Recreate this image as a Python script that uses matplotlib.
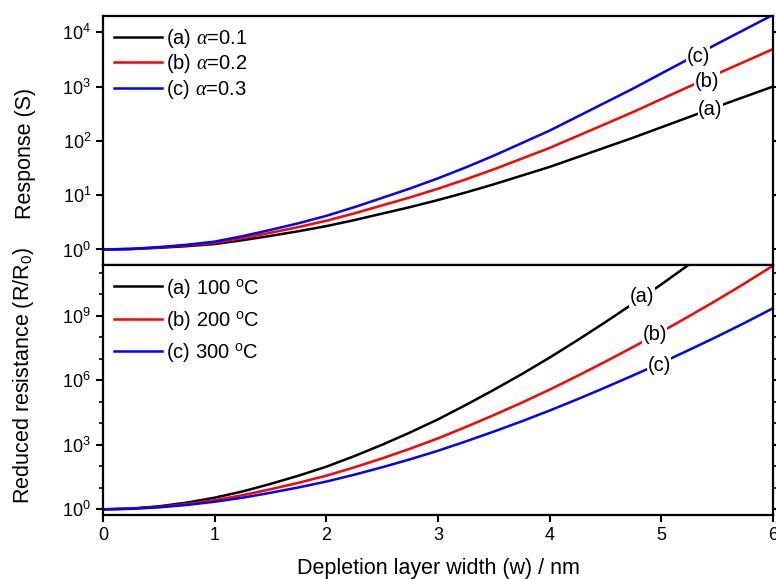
import matplotlib
matplotlib.use("Agg")
import matplotlib.pyplot as plt
from matplotlib.ticker import FixedLocator, NullLocator, LogFormatterSciNotation, NullFormatter

plt.rcParams['font.family'] = ['Liberation Sans', 'DejaVu Sans']
plt.rcParams['mathtext.fontset'] = 'custom'
plt.rcParams['mathtext.rm'] = 'Liberation Sans'
plt.rcParams['mathtext.it'] = 'Liberation Serif:italic'
plt.rcParams['mathtext.bf'] = 'Liberation Sans:bold'

# depletion layer width (nm)
w = [0.0, 0.25, 0.5, 0.75, 1.0, 1.25, 1.5, 1.75, 2.0, 2.25, 2.5, 2.75, 3.0,
     3.25, 3.5, 3.75, 4.0, 4.25, 4.5, 4.75, 5.0, 5.25, 5.5, 5.75, 6.0]

# sensor response S, given as log10(S), for three alpha values
resp_a_exp = [0, 0.007, 0.03, 0.06, 0.10, 0.17, 0.25, 0.335, 0.43, 0.54, 0.66, 0.78, 0.91,
              1.05, 1.20, 1.36, 1.52, 1.70, 1.88, 2.06, 2.25, 2.44, 2.63, 2.815, 3.0]
resp_b_exp = [0, 0.009, 0.037, 0.074, 0.123, 0.209, 0.308, 0.412, 0.529, 0.664, 0.812, 0.959, 1.119,
              1.292, 1.476, 1.673, 1.870, 2.091, 2.312, 2.534, 2.768, 3.001, 3.235, 3.462, 3.69]
resp_c_exp = [0, 0.010, 0.043, 0.086, 0.144, 0.245, 0.36, 0.482, 0.619, 0.778, 0.950, 1.123, 1.310,
              1.512, 1.728, 1.958, 2.189, 2.448, 2.707, 2.966, 3.24, 3.514, 3.787, 4.054, 4.32]
resp_labels = [r'(a) $\alpha$=0.1', r'(b) $\alpha$=0.2', r'(c) $\alpha$=0.3']

# reduced resistance R/R0, given as log10(R/R0), at three temperatures
res_a_exp = [0, 0.035, 0.14, 0.31, 0.54, 0.83, 1.18, 1.56, 1.98, 2.47, 3.0, 3.57, 4.18,
             4.85, 5.55, 6.28, 7.05, 7.86, 8.70, 9.57, 10.45, 11.38, 12.33, 13.32, 14.35]
res_b_exp = [0, 0.028, 0.11, 0.245, 0.426, 0.655, 0.931, 1.231, 1.562, 1.949, 2.367, 2.817, 3.298,
             3.827, 4.379, 4.955, 5.562, 6.202, 6.864, 7.551, 8.245, 8.979, 9.728, 10.509, 11.322]
res_c_exp = [0, 0.023, 0.091, 0.202, 0.352, 0.540, 0.768, 1.016, 1.289, 1.608, 1.953, 2.324, 2.721,
             3.157, 3.613, 4.088, 4.590, 5.117, 5.664, 6.230, 6.803, 7.408, 8.027, 8.671, 9.342]
res_labels = [r'(a) 100 $^{\mathrm{o}}$C', r'(b) 200 $^{\mathrm{o}}$C', r'(c) 300 $^{\mathrm{o}}$C']

colors = ['black', 'red', 'blue']
tags = ['(a)', '(b)', '(c)']

fig = plt.figure(figsize=(7.76, 5.79), dpi=100)
left, right = 0.1327, 0.9961
ax1 = fig.add_axes([left, 0.5415, right - left, 0.9724 - 0.5415])
ax2 = fig.add_axes([left, 0.1105, right - left, 0.5415 - 0.1105], sharex=ax1)

lw = 1.8
for ys, c, lab in zip([resp_a_exp, resp_b_exp, resp_c_exp], colors, resp_labels):
    ax1.plot(w, [10 ** v for v in ys], color=c, lw=lw, label=lab)
for ys, c, lab in zip([res_a_exp, res_b_exp, res_c_exp], colors, res_labels):
    ax2.plot(w, [10 ** v for v in ys], color=c, lw=lw, label=lab)

for ax in (ax1, ax2):
    ax.set_yscale('log')
    for s in ax.spines.values():
        s.set_linewidth(1.6)
    ax.tick_params(which='major', direction='out', length=5, width=1.5, labelsize=13,
                   right=True)
    ax.tick_params(which='minor', direction='out', length=3, width=1.2, right=True)

ax1.set_xlim(0, 6)
ax1.set_ylim(10 ** -0.295, 10 ** 4.30)
ax1.yaxis.set_major_locator(FixedLocator([1, 1e1, 1e2, 1e3, 1e4]))
ax1.yaxis.set_major_formatter(LogFormatterSciNotation())
ax1.yaxis.set_minor_locator(NullLocator())
ax1.tick_params(axis='x', which='both', bottom=False, labelbottom=False)

ax2.set_ylim(10 ** -0.265, 10 ** 11.33)
ax2.yaxis.set_major_locator(FixedLocator([1, 1e3, 1e6, 1e9]))
ax2.yaxis.set_major_formatter(LogFormatterSciNotation())
ax2.yaxis.set_minor_locator(FixedLocator([10.0 ** k for k in (1, 2, 4, 5, 7, 8, 10, 11)]))
ax2.yaxis.set_minor_formatter(NullFormatter())
ax2.set_xticks([0, 1, 2, 3, 4, 5, 6])

ax1.set_ylabel('Response (S)', fontsize=15.5)
ax2.set_ylabel(r'Reduced resistance (R/R$_0$)', fontsize=15.5)
ax1.yaxis.set_label_coords(-0.100, 0.45)
ax2.yaxis.set_label_coords(-0.100, 0.56)
ax2.set_xlabel('Depletion layer width (w) / nm', fontsize=15.5, labelpad=10)

ax1.legend(loc='upper left', frameon=False, fontsize=14.5, handlelength=2.4,
           handletextpad=0.2, labelspacing=0.12, borderaxespad=0.15)
ax2.legend(loc='upper left', frameon=False, fontsize=14.5, handlelength=2.4,
           handletextpad=0.2, labelspacing=0.45, borderaxespad=0.15)

box = dict(facecolor='white', edgecolor='none', pad=0.5)
for (x, y), t in zip([(5.44, 10 ** 2.57), (5.41, 10 ** 3.10), (5.33, 10 ** 3.56)], tags):
    ax1.text(x, y, t, fontsize=14.5, ha='center', va='center', bbox=box)
for (x, y), t in zip([(4.83, 10 ** 9.89), (4.94, 10 ** 8.11), (4.98, 10 ** 6.67)], tags):
    ax2.text(x, y, t, fontsize=14.5, ha='center', va='center', bbox=box)

fig.savefig('out.png', dpi=100)
